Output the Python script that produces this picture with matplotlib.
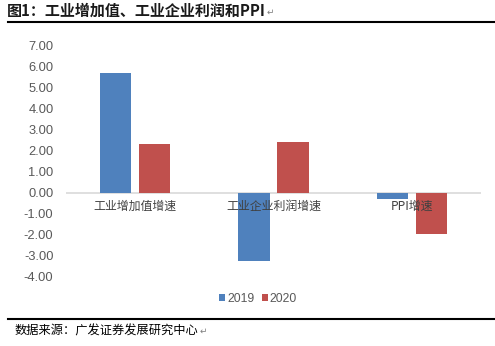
import matplotlib
matplotlib.use("Agg")
import matplotlib.pyplot as plt
import numpy as np

categories = ["工业增加值增速", "工业企业利润增速", "PPI增速"]
series_names = ["2019", "2020"]
values_2019 = [5.70, -3.25, -0.30]
values_2020 = [2.30, 2.40, -1.97]
yticks = [7, 6, 5, 4, 3, 2, 1, 0, -1, -2, -3, -4]

CJK = ["Noto Sans CJK SC", "DejaVu Sans"]
LAT = ["Liberation Sans", "DejaVu Sans"]

fig = plt.figure(figsize=(4.95, 3.46), dpi=100)
W, H = 495, 346
ax = fig.add_axes([66 / W, 1 - 276.7 / H, 415 / W, 231 / H])

x = np.arange(len(categories))
bw = 0.225
off = 0.141
ax.bar(x - off, values_2019, bw, color="#4F81BD", label=series_names[0], zorder=2)
ax.bar(x + off, values_2020, bw, color="#C0504D", label=series_names[1], zorder=2)
ax.axhline(0, color="#D9D9D9", lw=1.2, zorder=1)

ax.set_xlim(-0.5, 2.5)
ax.set_ylim(-4, 7)
ax.set_yticks(yticks)
ax.set_yticklabels([f"{v:.2f}" for v in yticks], family=LAT, fontsize=9.3, color="#595959")
ax.tick_params(axis="y", length=0, pad=9)
ax.set_xticks([])
for s in ax.spines.values():
    s.set_visible(False)

for xi, c in zip(x, categories):
    ax.text(xi, -0.35, c, transform=ax.transData, ha="center", va="top",
            fontsize=8.6, family=CJK, color="#404040")

leg = fig.legend(loc="center", bbox_to_anchor=(258 / W, 1 - 299 / H), ncol=2,
                 frameon=False, prop={"family": LAT, "size": 8.8},
                 handlelength=0.5, handleheight=0.5, handletextpad=0.15,
                 columnspacing=0.6, labelcolor="#595959")

fig.text(7 / W, 1 - 11 / H, "图1：工业增加值、工业企业利润和PPI", fontsize=10.8, fontweight="bold",
         family=CJK, color="#1a1a1a", va="center", ha="left")
fig.text(267 / W, 1 - 12 / H, "↵", fontsize=6.5, family=["DejaVu Sans"], color="#808080",
         va="center", ha="left")
fig.add_artist(plt.Line2D([8 / W, 1], [1 - 22 / H, 1 - 22 / H], color="black", lw=1.5))
fig.add_artist(plt.Line2D([8 / W, 1], [1 - 319 / H, 1 - 319 / H], color="black", lw=1.5))
fig.text(15 / W, 1 - 331 / H, "数据来源：广发证券发展研究中心", fontsize=8.8,
         family=CJK, color="black", va="center", ha="left")
fig.text(200 / W, 1 - 331 / H, "↵", fontsize=6.5, family=["DejaVu Sans"], color="#808080",
         va="center", ha="left")

fig.savefig("out.png", dpi=100)
